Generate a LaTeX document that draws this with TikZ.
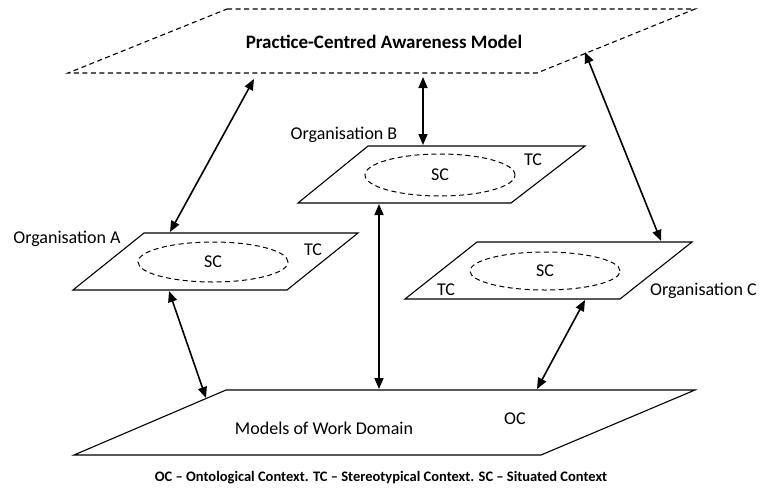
\documentclass[tikz,border=0pt]{standalone}
\usepackage{fontspec}
\setmainfont{Carlito}
\usetikzlibrary{arrows.meta,calc,shapes.geometric}
\begin{document}
\begin{tikzpicture}[x=1pt,y=-1pt,
  plane/.style={draw=black,line width=1.1pt,line join=miter},
  dashedplane/.style={plane,dash pattern=on 5pt off 3.5pt},
  ctx/.style={draw=black,line width=1pt,dash pattern=on 5pt off 3.5pt,
    ellipse,inner sep=0pt,font=\fontsize{18}{20}\selectfont},
  link/.style={line width=1.6pt,
    {Triangle[length=11pt,width=9pt]}-{Triangle[length=11pt,width=9pt]}},
  lbl/.style={font=\fontsize{18}{20}\selectfont,inner sep=0pt}]
\useasboundingbox (0,0) rectangle (763,499);

% practice-centred awareness model (top plane)
\coordinate (mTL) at (227,9);   \coordinate (mTR) at (695,9);
\coordinate (mBR) at (537,73);  \coordinate (mBL) at (68,73);
\draw[dashedplane] (mTL) -- (mTR) -- (mBR) -- (mBL) -- cycle;
\node[lbl,font=\fontsize{19}{21}\selectfont\bfseries] (model) at (384,42) {Practice-Centred Awareness Model};

% organisation B
\coordinate (bTL) at (368,146); \coordinate (bTR) at (585,146);
\coordinate (bBR) at (511,203); \coordinate (bBL) at (298,203);
\draw[plane] (bTL) -- (bTR) -- (bBR) -- (bBL) -- cycle;
\node[ctx,minimum width=150pt,minimum height=42pt] (bSC) at (440,175) {SC};
\node[lbl] (bTC) at (533,160) {TC};
\node[lbl] (bName) at (344,135) {Organisation B};

% organisation A
\coordinate (aTL) at (144,233); \coordinate (aTR) at (358,233);
\coordinate (aBR) at (287,290); \coordinate (aBL) at (73,290);
\draw[plane] (aTL) -- (aTR) -- (aBR) -- (aBL) -- cycle;
\node[ctx,minimum width=150pt,minimum height=40pt] (aSC) at (213,262) {SC};
\node[lbl] (aTC) at (313,250) {TC};
\node[lbl] (aName) at (67,239) {Organisation A};

% organisation C
\coordinate (cTL) at (477,242); \coordinate (cTR) at (692,242);
\coordinate (cBR) at (620,299); \coordinate (cBL) at (405,299);
\draw[plane] (cTL) -- (cTR) -- (cBR) -- (cBL) -- cycle;
\node[ctx,minimum width=150pt,minimum height=38pt] (cSC) at (545,271) {SC};
\node[lbl] (cTC) at (446,290) {TC};
\node[lbl,anchor=west] (cName) at (650,291) {Organisation C};

% models of work domain (bottom plane)
\coordinate (wTL) at (226,390); \coordinate (wTR) at (695,390);
\coordinate (wBR) at (541,455); \coordinate (wBL) at (74,455);
\draw[plane] (wTL) -- (wTR) -- (wBR) -- (wBL) -- cycle;
\node[lbl] (work) at (324,428) {Models of Work Domain};
\node[lbl] (wOC) at (515,419) {OC};

% connector end points
\coordinate (mA) at (254,79);  \coordinate (aUp) at (170,232);
\coordinate (mB) at (423,77);  \coordinate (bUp) at (423,145);
\coordinate (mC) at (585,52);  \coordinate (cUp) at (661,241);
\coordinate (aDn) at (169,291); \coordinate (wA) at (206,398);
\coordinate (bDn) at (379,204); \coordinate (wB) at (379,389);
\coordinate (cDn) at (585,300); \coordinate (wC) at (537,389);

\draw[link] (mA) -- (aUp);
\draw[link] (mB) -- (bUp);
\draw[link] (mC) -- (cUp);
\draw[link] (aDn) -- (wA);
\draw[link] (bDn) -- (wB);
\draw[link] (cDn) -- (wC);

% legend
\node[inner sep=0pt,font=\fontsize{14.5}{16}\selectfont\bfseries] (legend) at (381,478)
  {OC – Ontological Context. TC – Stereotypical Context. SC – Situated Context};
\end{tikzpicture}
\end{document}
